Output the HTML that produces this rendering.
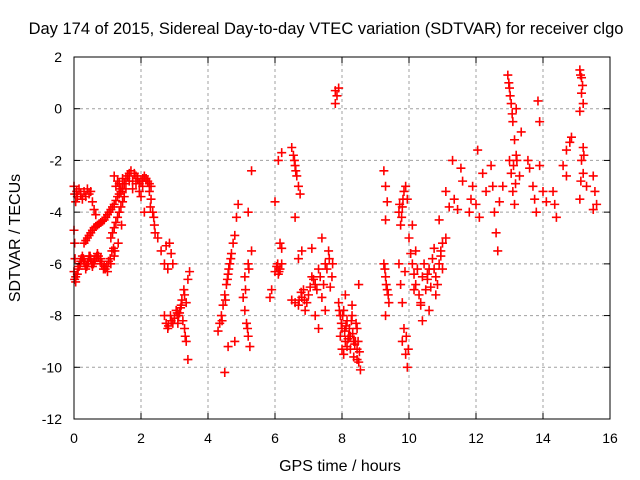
<!DOCTYPE html>
<html><head><meta charset="utf-8"><style>
body{margin:0;background:#fff}
svg{display:block;font-family:"Liberation Sans",Arial,sans-serif}
</style></head><body>
<svg id="chart" width="640" height="480" viewBox="0 0 640 480">
<rect width="640" height="480" fill="#fff"/>
<g id="grid"></g>
<g id="pts"></g>
<rect x="74" y="57" width="536" height="362" fill="none" stroke="#000" stroke-width="1"/>
<g id="ticks" font-size="14" fill="#000"></g>
<text x="326" y="34" text-anchor="middle" font-size="16.5">Day 174 of 2015, Sidereal Day-to-day VTEC variation (SDTVAR) for receiver clgo</text>
<text x="340" y="471" text-anchor="middle" font-size="16">GPS time / hours</text>
<text transform="translate(20,238) rotate(-90)" text-anchor="middle" font-size="16">SDTVAR / TECUs</text>
</svg>
<script>
const xTicks=[0,2,4,6,8,10,12,14,16];
const yTicks=[2,0,-2,-4,-6,-8,-10,-12];
const hours=[0,0.02,0.05,0.08,0.1,0.15,0.2,0.25,0.3,0.35,0.4,0.45,0.5,0.55,0.6,0.65,
0,0.02,0.03,0,0.02,0.05,
0.1,0.15,0.2,0.25,0.3,0.35,0.4,0.45,0.5,0.55,0.6,0.7,0.8,0.9,1.0,1.1,1.2,
0.3,0.4,0.5,0.6,0.7,0.8,0.9,1.0,1.1,1.2,1.3,1.4,1.1,1.2,1.3,1.4,1.5,
1.2,1.25,1.3,1.4,1.5,1.6,1.7,1.8,1.9,2.0,2.1,2.2,2.3,1.75,1.95,2.05,2.3,2.35,2.4,2.0,2.1,
2.5,2.6,2.7,2.75,2.85,2.9,2.95,2.8,
2.7,2.75,2.8,2.9,3.0,3.05,3.1,3.15,3.2,3.3,3.35,3.3,3.35,3.4,3.45,3.4,
4.3,4.35,4.4,4.45,4.5,4.55,4.6,4.65,4.5,4.7,4.75,4.8,4.85,4.9,4.6,4.8,
5.05,5.1,5.15,5.2,5.25,5.1,5.2,5.3,5.2,5.3,
5.85,5.9,6.0,6.05,6.1,6.15,6.2,6.15,6.2,6.0,6.1,6.2,
6.5,6.55,6.6,6.65,6.7,6.75,6.6,6.5,6.6,6.7,6.8,6.85,6.9,7.0,6.7,6.8,
7.1,7.2,7.3,7.4,7.5,7.6,7.7,7.2,7.3,7.5,7.1,7.4,7.65,
7.8,7.85,7.8,7.9,
7.9,7.95,8.0,8.05,8.1,8.15,8.2,8.25,8.3,8.35,8.4,8.45,8.5,8.55,8.0,8.1,8.3,8.5,8.45,7.95,
9.25,9.3,9.35,9.3,9.25,9.3,9.35,9.4,9.3,
9.7,9.75,9.8,9.85,9.9,9.95,9.7,9.75,9.8,9.85,9.9,9.95,9.8,
10.0,10.1,10.2,10.3,10.4,10.5,10.6,10.7,10.8,10.9,11.0,10.2,10.4,10.6,10.8,10.1,11.0,11.1,10.9,
11.1,11.2,11.3,11.35,11.45,11.55,11.6,
11.8,11.85,11.9,12.0,12.1,12.2,12.3,12.05,
12.45,12.5,12.55,12.6,12.65,12.7,12.8,
12.95,13.0,13.05,13.1,13.15,13.0,13.05,13.1,13.15,13.2,13.3,13.35,13.2,
13.55,13.6,13.7,13.75,13.8,13.85,13.9,13.9,14.0,14.1,
14.3,14.35,14.4,14.6,14.7,14.8,14.85,14.7,
15.1,15.15,15.15,15.2,15.1,15.2,15.15,15.2,15.3,15.1,
15.5,15.55,15.6,15.5,
0.05,0.12,0.18,0.22,0.28,0.33,0.38,0.43,0.48,0.53,0.58,0.63,0.68,0.73,0.78,0.83,0.88,0.93,0.98,1.03,1.08,1.13,1.18,
0.35,0.45,0.55,0.65,0.75,0.85,0.95,1.05,1.15,1.25,1.35,1.45,1.15,1.25,1.35,1.45,1.22,1.32,1.42,
1.35,1.45,1.55,1.65,1.75,1.85,1.95,2.05,2.15,2.25,1.55,1.65,1.85,2.15,2.25,2.28,2.38,2.42,
2.82,2.88,2.95,3.08,3.12,3.18,3.22,3.28,3.25,3.32,
4.42,4.52,4.58,4.62,4.68,5.12,5.18,5.22,
6.08,6.12,6.58,6.62,6.72,6.78,6.88,6.95,7.05,7.15,7.25,7.35,7.45,7.55,7.62,7.72,
7.92,7.98,8.02,8.08,8.12,8.18,8.22,8.28,8.32,8.38,8.42,8.48,8.52,8.05,8.15,8.25,8.35,8.45,
9.28,9.32,9.38,9.72,9.78,9.82,9.88,9.92,9.98,
10.05,10.15,10.25,10.35,10.45,10.55,10.65,10.75,10.85,10.95,10.15,10.35,10.55,10.75,10.95,
12.98,13.02,13.08,13.12,13.18,13.22,15.12,15.18,15.22,15.13];
const vtec=[-3.0,-3.3,-3.6,-3.2,-3.4,-3.1,-3.3,-3.5,-3.2,-3.4,-3.1,-3.3,-3.2,-3.6,-3.9,-4.1,
-4.7,-5.2,-5.8,-6.3,-6.6,-6.7,
-6.4,-6.1,-5.9,-5.7,-5.9,-6.2,-6.0,-5.7,-5.8,-6.1,-5.9,-5.6,-5.8,-6.1,-6.3,-6.0,-5.7,
-5.2,-5.0,-4.8,-4.6,-4.5,-4.4,-4.3,-4.1,-3.9,-3.7,-3.4,-3.2,-5.0,-4.6,-4.2,-3.8,-3.4,
-2.6,-3.0,-2.8,-3.1,-2.9,-2.6,-2.4,-2.5,-2.7,-2.8,-2.6,-2.8,-3.0,-3.1,-3.2,-3.0,-3.5,-4.0,-4.5,-3.4,-4.0,
-5.0,-5.5,-6.0,-5.3,-5.2,-5.6,-6.0,-6.2,
-8.0,-8.3,-8.5,-8.2,-8.1,-7.8,-8.3,-7.9,-7.6,-7.2,-7.5,-8.5,-9.0,-9.7,-6.3,-6.6,
-8.6,-8.3,-8.0,-7.6,-7.2,-6.8,-6.4,-6.0,-10.2,-5.6,-5.2,-4.9,-4.2,-3.7,-9.2,-9.0,
-7.3,-7.8,-8.3,-8.8,-9.2,-6.5,-6.0,-5.5,-4.0,-2.4,
-7.3,-7.0,-6.3,-6.1,-6.4,-6.2,-6.0,-5.2,-5.4,-3.6,-2.0,-1.7,
-1.5,-1.8,-2.2,-2.6,-3.0,-3.3,-4.2,-7.4,-7.5,-7.6,-7.3,-7.0,-7.8,-7.2,-5.8,-5.5,
-6.5,-6.8,-6.2,-7.3,-6.0,-5.5,-6.5,-8.0,-8.5,-7.8,-5.4,-5.0,-6.9,
0.7,0.5,0.2,0.8,
-7.5,-8.0,-8.5,-7.8,-9.0,-8.2,-8.8,-9.3,-8.0,-9.6,-9.0,-8.5,-9.8,-10.1,-9.3,-7.2,-7.6,-6.8,-9.3,-8.8,
-2.4,-3.0,-3.6,-4.3,-6.0,-6.5,-7.0,-7.5,-8.0,
-4.0,-4.5,-3.8,-3.2,-3.0,-3.5,-6.0,-6.8,-7.5,-8.5,-9.5,-10.0,-9.0,
-5.0,-6.0,-6.8,-7.2,-6.5,-7.0,-6.2,-5.8,-6.5,-6.0,-6.2,-5.5,-8.2,-7.8,-7.2,-4.5,-5.2,-5.0,-4.3,
-3.2,-3.8,-2.0,-3.5,-3.9,-2.3,-2.8,
-4.0,-3.5,-3.0,-3.7,-4.2,-2.5,-3.2,-1.6,
-2.2,-3.0,-4.0,-4.8,-5.5,-3.6,-3.0,
1.3,0.8,0.2,-0.5,-1.2,-2.0,-2.5,-3.2,-3.7,-1.8,-2.6,-0.9,0.0,
-2.0,-2.3,-3.0,-3.5,-4.0,0.3,-0.5,-2.2,-3.2,-3.6,
-3.2,-3.7,-4.2,-2.2,-2.6,-1.3,-1.1,-1.6,
1.5,1.2,0.6,0.2,-0.1,-1.5,-2.0,-2.5,-3.0,-3.5,
-2.6,-3.2,-3.7,-3.9,
-6.5,-6.2,-6.0,-5.8,-5.8,-6.0,-6.1,-5.9,-5.7,-6.0,-6.0,-5.8,-5.7,-5.7,-5.9,-6.0,-6.2,-6.2,-6.1,-5.9,-5.8,-5.5,-5.4,
-5.1,-4.9,-4.7,-4.55,-4.45,-4.35,-4.2,-4.0,-3.8,-3.55,-3.3,-3.1,-4.8,-4.4,-4.0,-3.6,-5.5,-5.2,-4.5,
-2.9,-2.7,-2.7,-2.5,-2.8,-2.6,-2.9,-2.7,-2.7,-2.9,-3.1,-2.8,-2.9,-2.7,-3.2,-3.8,-4.2,-4.8,
-8.4,-8.0,-8.3,-7.9,-8.0,-7.7,-7.4,-7.0,-8.2,-8.8,
-8.2,-7.4,-6.6,-6.2,-5.8,-7.0,-8.5,-6.2,
-6.0,-6.3,-2.0,-2.4,-7.4,-7.1,-7.4,-7.5,-6.9,-6.6,-7.0,-6.5,-6.8,-6.2,-5.8,-6.0,
-7.8,-8.3,-8.0,-8.6,-8.4,-8.9,-8.5,-8.2,-8.7,-9.1,-8.3,-9.0,-9.4,-9.5,-9.2,-8.8,-9.0,-9.7,
-6.2,-6.8,-7.2,-3.7,-4.2,-3.5,-6.3,-8.8,-9.3,
-5.6,-6.4,-6.2,-7.5,-6.0,-6.6,-6.9,-6.2,-6.8,-5.5,-7.0,-7.6,-6.4,-5.4,-5.7,
1.0,0.5,-0.2,-2.2,-2.9,-2.0,1.3,0.9,-1.8,-2.8];
const NS="http://www.w3.org/2000/svg";
const X0=74,X1=610,Y0=419,Y1=57;
function xs(h){return X0+(h-0)/(16-0)*(X1-X0);}
function ys(v){return Y0-(v+12)/(2+12)*(Y0-Y1);}
const grid=document.getElementById('grid'),ticks=document.getElementById('ticks'),pts=document.getElementById('pts');
function mk(t,a,p){const e=document.createElementNS(NS,t);for(const k in a)e.setAttribute(k,a[k]);p.appendChild(e);return e;}
xTicks.forEach(t=>{const x=xs(t);
 if(t>0&&t<16){const l=mk('line',{x1:x,x2:x,y1:Y1,y2:Y0,stroke:'#a0a0a0','stroke-dasharray':'3,3'},grid);
 
 }
 mk('line',{x1:x,x2:x,y1:Y0,y2:Y0-6,stroke:'#000'},ticks);mk('line',{x1:x,x2:x,y1:Y1,y2:Y1+6,stroke:'#000'},ticks);
 const tx=mk('text',{x:x,y:443,'text-anchor':'middle'},ticks);tx.textContent=t;
 
 });
yTicks.forEach(t=>{const y=ys(t);
 if(t<2&&t>-12){const l=mk('line',{x1:X0,x2:X1,y1:y,y2:y,stroke:'#a0a0a0','stroke-dasharray':'3,3'},grid);
 
 }
 mk('line',{x1:X0,x2:X0+6,y1:y,y2:y,stroke:'#000'},ticks);mk('line',{x1:X1,x2:X1-6,y1:y,y2:y,stroke:'#000'},ticks);
 const tx=mk('text',{x:62,y:y+5,'text-anchor':'end'},ticks);tx.textContent=t;
 
 });
hours.forEach((h,i)=>{const x=xs(h),y=ys(vtec[i]);
 const d=`M${x-4.5},${y}H${x+4.5}M${x},${y-4.5}V${y+4.5}`;
 const p=mk('path',{d:d,stroke:'#f00','stroke-width':1.6,fill:'none'},pts);
 
 });
</script>
</body></html>
